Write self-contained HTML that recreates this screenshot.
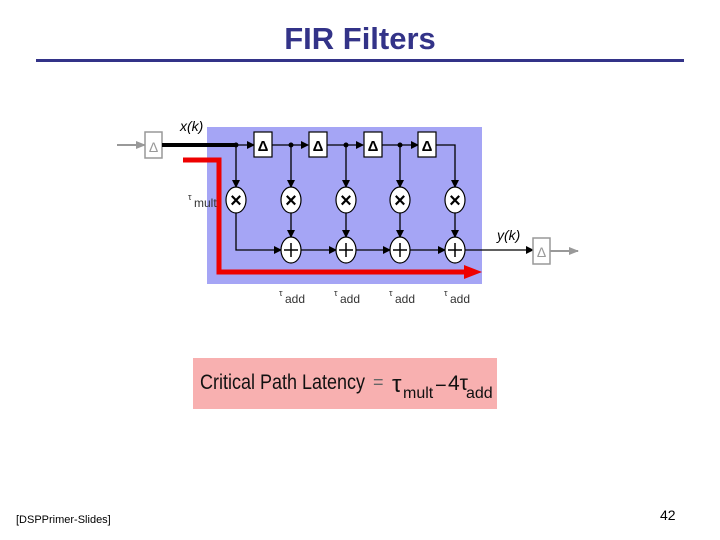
<!DOCTYPE html>
<html><head><meta charset="utf-8"><style>
html,body{margin:0;padding:0;background:#fff;}
body{width:720px;height:540px;position:relative;overflow:hidden;font-family:"Liberation Sans",sans-serif;}
</style></head><body>
<svg width="720" height="540" viewBox="0 0 720 540" xmlns="http://www.w3.org/2000/svg" style="position:absolute;left:0;top:0">
<defs>
<marker id="a" markerWidth="8" markerHeight="8" refX="7" refY="4" orient="auto" markerUnits="userSpaceOnUse"><path d="M0,0 L8,4 L0,8 z" fill="#000"/></marker>
<marker id="g" markerWidth="10" markerHeight="8" refX="9" refY="4" orient="auto" markerUnits="userSpaceOnUse"><path d="M0,0 L10,4 L0,8 z" fill="#999"/></marker>
</defs>
<text x="360" y="49" text-anchor="middle" font-family="Liberation Sans" font-weight="bold" font-size="31" fill="#333388">FIR Filters</text>
<rect x="36" y="59" width="648" height="3" fill="#333388"/>

<rect x="207" y="127" width="275" height="157" fill="#a5a5f5"/>
<line x1="117" y1="145" x2="145" y2="145" stroke="#999" stroke-width="2" marker-end="url(#g)"/>
<rect x="145" y="132" width="17" height="26" fill="#fff" stroke="#999" stroke-width="1.5"/>
<text x="153.5" y="152" text-anchor="middle" font-size="14" fill="#999">Δ</text>
<line x1="162" y1="145" x2="236" y2="145" stroke="#000" stroke-width="4"/>
<text x="180" y="131" font-size="14" font-style="italic" fill="#000">x(k)</text>
<g stroke="#000" stroke-width="1.3" fill="none">
<line x1="236" y1="145" x2="254" y2="145" marker-end="url(#a)"/>
<line x1="272" y1="145" x2="308" y2="145" marker-end="url(#a)"/>
<line x1="327" y1="145" x2="363" y2="145" marker-end="url(#a)"/>
<line x1="382" y1="145" x2="418" y2="145" marker-end="url(#a)"/>
<polyline points="436,145 455,145 455,187" marker-end="url(#a)"/>
<line x1="236" y1="145" x2="236" y2="187" marker-end="url(#a)"/>
<line x1="291" y1="145" x2="291" y2="187" marker-end="url(#a)"/>
<line x1="346" y1="145" x2="346" y2="187" marker-end="url(#a)"/>
<line x1="400" y1="145" x2="400" y2="187" marker-end="url(#a)"/>
<line x1="291" y1="213" x2="291" y2="237" marker-end="url(#a)"/>
<line x1="346" y1="213" x2="346" y2="237" marker-end="url(#a)"/>
<line x1="400" y1="213" x2="400" y2="237" marker-end="url(#a)"/>
<line x1="455" y1="213" x2="455" y2="237" marker-end="url(#a)"/>
<polyline points="236,213 236,250 281,250" marker-end="url(#a)"/>
<line x1="301" y1="250" x2="336" y2="250" marker-end="url(#a)"/>
<line x1="356" y1="250" x2="390" y2="250" marker-end="url(#a)"/>
<line x1="410" y1="250" x2="445" y2="250" marker-end="url(#a)"/>
<line x1="465" y1="250" x2="533" y2="250" marker-end="url(#a)"/>
</g>
<g fill="#000"><circle cx="236" cy="145" r="2.5"/><circle cx="291" cy="145" r="2.5"/><circle cx="346" cy="145" r="2.5"/><circle cx="400" cy="145" r="2.5"/></g>
<g font-size="15" font-weight="bold" text-anchor="middle">
<rect x="254" y="132" width="18" height="25" fill="#fff" stroke="#000" stroke-width="1.2"/><text x="263" y="151">Δ</text>
<rect x="309" y="132" width="18" height="25" fill="#fff" stroke="#000" stroke-width="1.2"/><text x="318" y="151">Δ</text>
<rect x="364" y="132" width="18" height="25" fill="#fff" stroke="#000" stroke-width="1.2"/><text x="373" y="151">Δ</text>
<rect x="418" y="132" width="18" height="25" fill="#fff" stroke="#000" stroke-width="1.2"/><text x="427" y="151">Δ</text>
</g>
<g stroke="#000" stroke-width="1.2" fill="#fff">
<ellipse cx="236" cy="200" rx="10" ry="13"/><ellipse cx="291" cy="200" rx="10" ry="13"/><ellipse cx="346" cy="200" rx="10" ry="13"/><ellipse cx="400" cy="200" rx="10" ry="13"/><ellipse cx="455" cy="200" rx="10" ry="13"/>
<ellipse cx="291" cy="250" rx="10" ry="13"/><ellipse cx="346" cy="250" rx="10" ry="13"/><ellipse cx="400" cy="250" rx="10" ry="13"/><ellipse cx="455" cy="250" rx="10" ry="13"/>
</g>
<g font-size="20" font-weight="bold" text-anchor="middle">
<text x="236" y="207">×</text><text x="291" y="207">×</text><text x="346" y="207">×</text><text x="400" y="207">×</text><text x="455" y="207">×</text>
</g>
<g stroke="#000" stroke-width="1.5">
<line x1="284" y1="250" x2="298" y2="250"/><line x1="291" y1="243" x2="291" y2="257"/>
<line x1="339" y1="250" x2="353" y2="250"/><line x1="346" y1="243" x2="346" y2="257"/>
<line x1="393" y1="250" x2="407" y2="250"/><line x1="400" y1="243" x2="400" y2="257"/>
<line x1="448" y1="250" x2="462" y2="250"/><line x1="455" y1="243" x2="455" y2="257"/>
</g>
<polyline points="183,160 219,160 219,272 466,272" fill="none" stroke="#ee0000" stroke-width="5"/>
<path d="M464,265 L482,272 L464,279 z" fill="#ee0000"/>
<text x="497" y="240" font-size="14" font-style="italic">y(k)</text>
<rect x="533" y="238" width="17" height="26" fill="#fff" stroke="#999" stroke-width="1.5"/>
<text x="541.5" y="257" text-anchor="middle" font-size="14" fill="#999">Δ</text>
<line x1="550" y1="251" x2="578" y2="251" stroke="#999" stroke-width="2" marker-end="url(#g)"/>
<g font-size="12" fill="#333">
<text x="188" y="200" font-size="9">τ</text><text x="194" y="207">mult</text>
<text x="279" y="296" font-size="9">τ</text><text x="285" y="303">add</text>
<text x="334" y="296" font-size="9">τ</text><text x="340" y="303">add</text>
<text x="389" y="296" font-size="9">τ</text><text x="395" y="303">add</text>
<text x="444" y="296" font-size="9">τ</text><text x="450" y="303">add</text>
</g>
<rect x="193" y="358" width="304" height="51" fill="#f8b0b0"/>
<text x="200" y="389" font-size="21" fill="#111" textLength="165" lengthAdjust="spacingAndGlyphs">Critical Path Latency</text>
<text x="373" y="388" font-size="18" fill="#666">=</text>
<text x="392" y="392" font-size="24" fill="#111">τ</text>
<text x="403" y="398" font-size="16" fill="#111">mult</text>
<text x="435" y="392" font-size="20" fill="#111">−</text>
<text x="448" y="390" font-size="21" fill="#111">4τ</text>
<text x="466" y="398" font-size="16" fill="#111">add</text>
<text x="16" y="523" font-size="11" fill="#000">[DSPPrimer-Slides]</text>
<text x="660" y="520" font-size="14" fill="#000">42</text>
</svg>
</body></html>
